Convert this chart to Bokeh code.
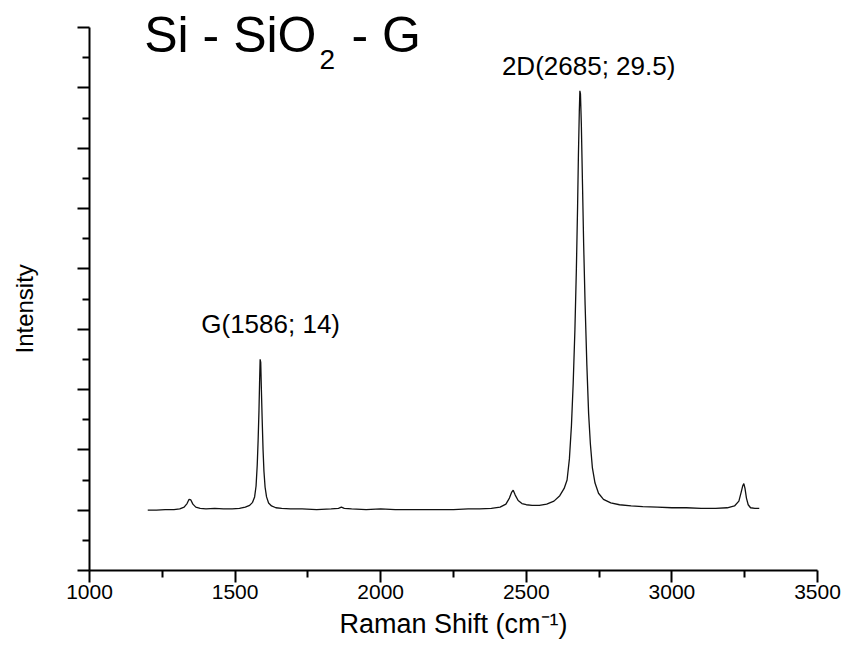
from bokeh.plotting import figure
from bokeh.models import Range1d, FixedTicker, Label
from bokeh.embed import file_html
from bokeh.resources import INLINE

# ---- data ----
raman_shift = [1200, 1230, 1260, 1290, 1310, 1325, 1335, 1342, 1348, 1355, 1365, 1380, 1400, 1430,
               1460, 1490, 1515, 1535, 1550, 1560, 1567, 1572, 1576, 1579, 1582, 1584, 1586, 1588,
               1590, 1593, 1596, 1599, 1603, 1608, 1615, 1625, 1640, 1660, 1690, 1730, 1780, 1830,
               1855, 1865, 1875, 1900, 1950, 2000, 2050, 2100, 2150, 2200, 2250, 2300, 2340, 2380,
               2410, 2430, 2442, 2450, 2455, 2462, 2472, 2485, 2500, 2520, 2545, 2570, 2595, 2615,
               2630, 2640, 2648, 2655, 2661, 2667, 2672, 2676, 2679, 2682, 2684, 2686, 2689, 2693,
               2697, 2702, 2708, 2714, 2720, 2727, 2736, 2748, 2765, 2790, 2820, 2860, 2900, 2950,
               3000, 3050, 3100, 3150, 3190, 3215, 3230, 3238, 3243, 3247, 3251, 3256, 3262, 3270,
               3285, 3300]
intensity = [1.00, 1.00, 1.01, 1.01, 1.02, 1.05, 1.11, 1.18, 1.17, 1.10, 1.05, 1.03, 1.02, 1.03,
             1.02, 1.02, 1.03, 1.05, 1.08, 1.13, 1.22, 1.40, 1.75, 2.15, 2.65, 3.10, 3.50, 3.45,
             3.05, 2.50, 2.00, 1.65, 1.38, 1.22, 1.12, 1.07, 1.04, 1.03, 1.02, 1.02, 1.01, 1.02,
             1.03, 1.05, 1.03, 1.02, 1.01, 1.02, 1.01, 1.01, 1.01, 1.01, 1.01, 1.02, 1.02, 1.03,
             1.05, 1.10, 1.20, 1.30, 1.33, 1.25, 1.16, 1.11, 1.09, 1.08, 1.08, 1.10, 1.15, 1.24,
             1.36, 1.50, 1.85, 2.40, 3.10, 4.00, 5.00, 6.00, 6.90, 7.60, 7.95, 7.90, 7.40, 6.40,
             5.40, 4.40, 3.40, 2.60, 2.10, 1.70, 1.45, 1.28, 1.18, 1.12, 1.09, 1.07, 1.06, 1.05,
             1.04, 1.04, 1.03, 1.03, 1.04, 1.07, 1.15, 1.30, 1.40, 1.44, 1.36, 1.20, 1.09, 1.04,
             1.03, 1.03]

x_ticks = [1000, 1500, 2000, 2500, 3000, 3500]
x_minor = [1250, 1750, 2250, 2750, 3250]
y_ticks = [0, 1, 2, 3, 4, 5, 6, 7, 8, 9]
y_minor = [0.5, 1.5, 2.5, 3.5, 4.5, 5.5, 6.5, 7.5, 8.5]

peak_labels = ["G(1586; 14)", "2D(2685; 29.5)"]
peak_label_x = [1622, 2714]
peak_label_y = [4.08, 8.36]

FONT = "Liberation Sans"

# frame reaches the top of the page so the title is not clipped; the axis line stops at 9
p = figure(width=844, height=662, output_backend="svg", toolbar_location=None,
           x_range=Range1d(1000, 3500), y_range=Range1d(0, 9.448),
           min_border_left=89, min_border_right=27, min_border_top=0, min_border_bottom=92)
p.background_fill_color = "white"
p.border_fill_color = "white"
p.outline_line_color = None
p.xgrid.visible = False
p.ygrid.visible = False

p.line(raman_shift, intensity, line_color="#111111", line_width=1.3)

for ax in (p.xaxis[0], p.yaxis[0]):
    ax.axis_line_width = 2
    ax.axis_line_color = "black"
    ax.major_tick_line_width = 2
    ax.minor_tick_line_width = 2
    ax.major_tick_line_color = "black"
    ax.minor_tick_line_color = "black"
    ax.major_tick_in = 0
    ax.major_tick_out = 12
    ax.minor_tick_in = 0
    ax.minor_tick_out = 7
    ax.axis_label_text_font = FONT
    ax.axis_label_text_font_style = "normal"
    ax.axis_label_text_color = "black"
    ax.major_label_text_font = FONT
    ax.major_label_text_color = "black"

p.xaxis.ticker = FixedTicker(ticks=x_ticks, minor_ticks=x_minor)
p.yaxis.ticker = FixedTicker(ticks=y_ticks, minor_ticks=y_minor)
p.yaxis.bounds = (0, 9)
p.xaxis.major_label_text_font_size = "21px"
p.xaxis.major_label_standoff = 2
p.xaxis.axis_label = "Raman Shift (cm\u207b\u00b9)"
p.xaxis.axis_label_text_font_size = "27px"
p.xaxis.axis_label_standoff = 7

p.yaxis.major_label_overrides = {t: "" for t in y_ticks}
# trailing no-break spaces centre the label on the drawn axis (0..9) instead of the taller frame
p.yaxis.axis_label = "Intensity" + "\u00a0" * 7
p.yaxis.axis_label_text_font_size = "24px"
p.yaxis.axis_label_standoff = 40

for txt, lx, ly in zip(peak_labels, peak_label_x, peak_label_y):
    p.add_layout(Label(x=lx, y=ly, text=txt, text_align="center", text_baseline="middle",
                       text_font=FONT, text_font_size="26px", text_color="black"))

# title "Si - SiO2 - G" with a subscript 2
p.add_layout(Label(x=1188, y=8.87, text="Si - SiO", text_align="left", text_baseline="alphabetic",
                   text_font=FONT, text_font_size="50px", text_color="black"))
p.add_layout(Label(x=1790, y=8.47, text="2", text_align="left", text_baseline="alphabetic",
                   text_font=FONT, text_font_size="28px", text_color="black"))
p.add_layout(Label(x=1900, y=8.87, text="- G", text_align="left", text_baseline="alphabetic",
                   text_font=FONT, text_font_size="50px", text_color="black"))

open("out.html", "w").write(file_html(p, INLINE))
